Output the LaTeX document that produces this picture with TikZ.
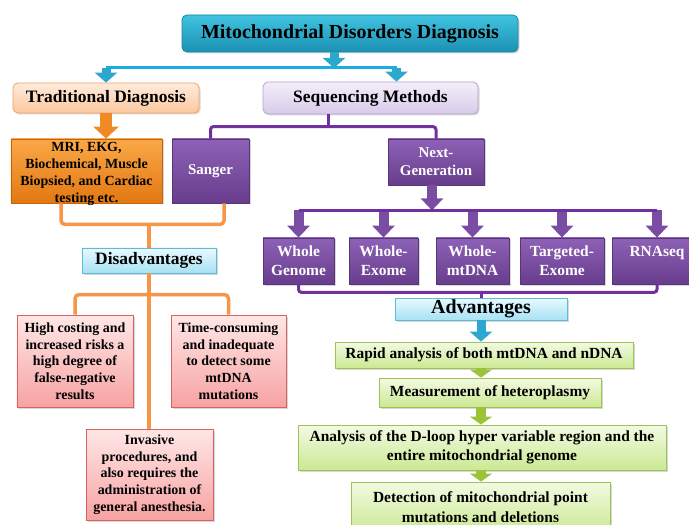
\documentclass[tikz,border=0pt]{standalone}
\usepackage{fontspec}
\setmainfont{Liberation Serif}
\usetikzlibrary{arrows.meta,shadows}
\definecolor{tealtop}{HTML}{40C3E0}
\definecolor{tealbot}{HTML}{1C91B3}
\definecolor{tealdraw}{HTML}{1A84A3}
\definecolor{peachtop}{HTML}{FEEBDD}
\definecolor{peachbot}{HTML}{FBC89D}
\definecolor{peachdraw}{HTML}{F5A461}
\definecolor{lavtop}{HTML}{F3EEF9}
\definecolor{lavbot}{HTML}{D8CBEA}
\definecolor{lavdraw}{HTML}{B6A4CF}
\definecolor{orgtop}{HTML}{FBA848}
\definecolor{orgbot}{HTML}{E27812}
\definecolor{orgdraw}{HTML}{C0650E}
\definecolor{purtop}{HTML}{8D61B6}
\definecolor{purbot}{HTML}{683D8C}
\definecolor{purdraw}{HTML}{5A3478}
\definecolor{skytop}{HTML}{E9F9FE}
\definecolor{skybot}{HTML}{A6E2F4}
\definecolor{skydraw}{HTML}{62B9D6}
\definecolor{pinktop}{HTML}{FFE7E7}
\definecolor{pinkbot}{HTML}{F7A2A2}
\definecolor{pinkdraw}{HTML}{D9625F}
\definecolor{limetop}{HTML}{F3FAE3}
\definecolor{limebot}{HTML}{CBE993}
\definecolor{limedraw}{HTML}{9DC356}
\definecolor{cyanln}{HTML}{19AEE3}
\definecolor{orangeln}{HTML}{F79646}
\definecolor{purpleln}{HTML}{7030A0}
\definecolor{cyanarr}{HTML}{2CA8CF}
\definecolor{orangearr}{HTML}{F08A24}
\definecolor{purplearr}{HTML}{7B4CA3}
\definecolor{greenarr}{HTML}{9CC23A}
\begin{document}
\begin{tikzpicture}[x=1bp, y=-1bp,
    box/.style={draw, line width=0.8bp, inner sep=0pt, align=center,
      font=\bfseries\fontsize{14}{17}\selectfont,
      drop shadow={opacity=0.3, shadow xshift=1.5bp, shadow yshift=-1.5bp}},
    titlebox/.style={box, rounded corners=5bp, top color=tealtop,
      bottom color=tealbot, draw=tealdraw,
      font=\bfseries\fontsize{20}{24}\selectfont},
    tradbox/.style={box, rounded corners=5bp, top color=peachtop,
      bottom color=peachbot, draw=peachdraw,
      font=\bfseries\fontsize{17.5}{21}\selectfont},
    seqbox/.style={box, rounded corners=5bp, top color=lavtop,
      bottom color=lavbot, draw=lavdraw,
      font=\bfseries\fontsize{17.5}{21}\selectfont},
    mribox/.style={box, top color=orgtop, bottom color=orgbot, draw=orgdraw},
    purbox/.style={box, top color=purtop, bottom color=purbot, draw=purdraw,
      text=white, font=\bfseries\fontsize{15.5}{19}\selectfont},
    skybox/.style={box, top color=skytop, bottom color=skybot, draw=skydraw,
      font=\bfseries\fontsize{17.5}{21}\selectfont},
    pinkbox/.style={box, top color=pinktop, bottom color=pinkbot,
      draw=pinkdraw, font=\bfseries\fontsize{14}{16.7}\selectfont},
    limebox/.style={box, top color=limetop, bottom color=limebot,
      draw=limedraw, font=\bfseries\fontsize{15.5}{19.5}\selectfont},
    cyanline/.style={draw=cyanln, line width=3bp},
    orangeline/.style={draw=orangeln, line width=3.5bp, rounded corners=4bp},
    purpleline/.style={draw=purpleln, line width=3bp, rounded corners=3bp},
    cyanarrow/.style={draw=cyanarr, line width=9bp,
      -{Triangle[length=10bp, width=22bp]}},
    orangearrow/.style={draw=orangearr, line width=12bp,
      -{Triangle[length=12bp, width=25bp]}},
    purplearrow/.style={draw=purplearr, line width=10bp,
      -{Triangle[length=12bp, width=22bp]}},
    greenarrow/.style={draw=greenarr, line width=10bp,
      -{Triangle[length=8bp, width=22bp]}}]
  \useasboundingbox (0,0) rectangle (689,525);
  \clip (0,0) rectangle (689,525);
  \fill[white] (0,0) rectangle (689,525);

  % top level
  \node[titlebox, minimum width=336bp, minimum height=37bp] (title)
    at (350,33.5) {Mitochondrial Disorders Diagnosis};
  \node[tradbox, minimum width=186bp, minimum height=30bp] (trad)
    at (106,98) {Traditional Diagnosis};
  \node[seqbox, minimum width=215bp, minimum height=32bp] (seq)
    at (370.5,98) {Sequencing Methods};
  \coordinate (split) at (334,68);
  \coordinate (seqin) at ([xshift=26bp]seq.north);
  \draw[cyanline] (trad.north |- split) -- (seqin |- split);
  \draw[cyanarrow] (title.south -| split) -- (split);
  \draw[cyanarrow] (trad.north |- split) -- (trad.north);
  \draw[cyanarrow] (seqin |- split) -- (seqin);

  % traditional side
  \node[mribox, minimum width=151bp, minimum height=64bp] (mri)
    at (86.5,171) {};
  \node[align=center, inner sep=0pt, font=\bfseries\fontsize{14}{16.8}\selectfont]
    (mritext) at ([yshift=-3bp]mri.center)
    {MRI, EKG,\\Biochemical, Muscle\\Biopsied, and Cardiac\\testing etc.};
  \draw[orangearrow] (trad.south) -- (trad.south |- mri.north);

  % sequencing side
  \node[purbox, minimum width=77bp, minimum height=64bp,
    font=\bfseries\fontsize{15}{18}\selectfont] (sanger) at (210.5,171) {Sanger};
  \node[purbox, minimum width=96bp, minimum height=46bp,
    font=\bfseries\fontsize{15}{18}\selectfont] (ngs) at (436,162) {Next-\\Generation};
  \draw[purpleline] (sanger.north) -- ++(0,-12) -| (ngs.north);
  \draw[purpleline] ([xshift=-42.5bp]seq.south) -- ++(0,13);
  \draw[purplearrow] ([xshift=-4bp]ngs.south) -- ++(0,25) coordinate (fan);

  \foreach \n/\x/\w/\t in {wg/298.5/71bp/{Whole\\Genome},
      we/383.5/69bp/{Whole-\\Exome}, wm/472.5/73bp/{Whole-\\mtDNA},
      te/562/84bp/{Targeted-\\Exome}, rna/657/90bp/{RNAseq\\\phantom{E}}}{
    \node[purbox, minimum width=\w, minimum height=46bp] (\n) at (\x,261) {\t};
    \draw[purplearrow] (\n.north |- fan) -- (\n.north);
  }
  \draw[purpleline] (wg.north |- fan) -- (rna.north |- fan);

  % advantages
  \node[skybox, minimum width=172bp, minimum height=22bp,
    font=\bfseries\fontsize{20}{24}\selectfont] (adv) at (481,309) {Advantages};
  \draw[purpleline] (wg.south) -- ++(0,8) -| (rna.south);
  \draw[purpleline] (adv.north) -- ++(0,-6);
  \node[limebox, minimum width=298bp, minimum height=26bp] (rapid)
    at (484,355) {Rapid analysis of both mtDNA and nDNA};
  \node[limebox, minimum width=222bp, minimum height=29bp] (meas)
    at (490,392.5) {Measurement of heteroplasmy};
  \node[limebox, minimum width=368bp, minimum height=45bp] (anal)
    at (482,447.5) {Analysis of the D-loop hyper variable region and the\\entire mitochondrial genome};
  \node[limebox, minimum width=259bp, minimum height=50bp] (det)
    at (480.5,507) {Detection of mitochondrial point\\mutations and deletions};
  \draw[cyanarrow] (adv.south) -- (adv.south |- rapid.north);
  \draw[greenarrow] (rapid.south -| adv.south) -- (meas.north -| adv.south);
  \draw[greenarrow] (meas.south -| adv.south) -- (anal.north -| adv.south);
  \draw[greenarrow] (anal.south -| adv.south) -- (det.north -| adv.south);

  % disadvantages
  \node[skybox, minimum width=134bp, minimum height=25bp] (dis)
    at (149,260.5) {Disadvantages};
  \draw[orangeline] ([xshift=-25.5bp]mri.south) -- ++(0,21)
    -| ([xshift=13.5bp]sanger.south);
  \draw[orangeline] (dis.north) -- ++(0,-24);
  \node[pinkbox, minimum width=116bp, minimum height=92bp] (high)
    at (75,361) {High costing and\\increased risks a\\high degree of\\false-negative\\results};
  \node[pinkbox, minimum width=115bp, minimum height=92bp] (time)
    at (228.5,361) {Time-consuming\\and inadequate\\to detect some\\mtDNA\\mutations};
  \node[pinkbox, minimum width=127bp, minimum height=91bp] (inv)
    at (149.5,474.5) {Invasive\\procedures, and\\also requires the\\administration of\\general anesthesia.};
  \draw[orangeline] (dis.south) -- (dis.south |- inv.north);
  \draw[orangeline] (high.north) -- ++(0,-20) -| (time.north);
\end{tikzpicture}
\end{document}
